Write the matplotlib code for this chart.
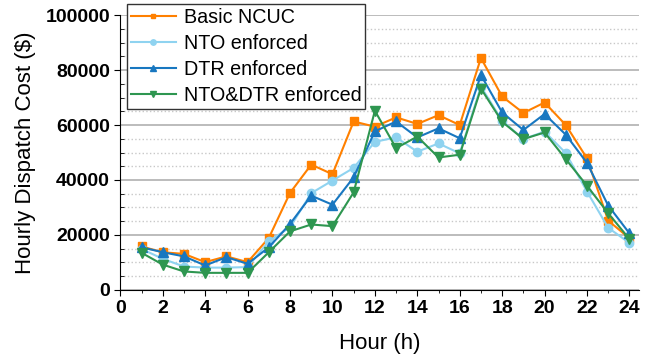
import matplotlib
matplotlib.use('Agg')
import matplotlib.pyplot as plt
from matplotlib.ticker import MultipleLocator

plt.rcParams['font.family'] = ['Liberation Sans', 'DejaVu Sans']

# Data
hours = list(range(1, 25))
basic_ncuc = [15800, 13700, 13100, 10100, 12200, 10100, 18900, 35300, 45600, 42100, 61300, 59400,
              62800, 60400, 63600, 60000, 84400, 70400, 64400, 68200, 60000, 47900, 25200, 18800]
nto = [14900, 11300, 8500, 8100, 8100, 8300, 17700, 22800, 35200, 39800, 44400, 53900,
       55500, 50300, 53300, 49700, 74000, 61600, 54900, 57600, 49800, 35800, 22600, 17100]
dtr = [15500, 13700, 12200, 8900, 11900, 9500, 15500, 24000, 34300, 31000, 41000, 57700,
       61300, 55500, 58800, 55200, 78200, 64600, 58200, 64000, 56500, 46200, 30700, 20600]
nto_dtr = [13500, 9200, 6700, 6200, 6200, 6200, 13700, 21300, 23800, 23200, 35500, 65200,
           51600, 55800, 48200, 49200, 73300, 61200, 54900, 57300, 47600, 37900, 27900, 18500]

series = [
    ('Basic NCUC', basic_ncuc, '#FF8000', 's', 5.5),
    ('NTO enforced', nto, '#8FD3F0', 'o', 6.0),
    ('DTR enforced', dtr, '#1877C0', '^', 6.5),
    ('NTO&DTR enforced', nto_dtr, '#2E9650', 'v', 6.5),
]

fig = plt.figure(figsize=(6.54, 3.61), dpi=100)
ax = fig.add_axes([0.184, 0.197, 0.793, 0.761])

for label, vals, color, marker, ms in series:
    ax.plot(hours, vals, color=color, marker=marker, markersize=ms, linewidth=1.5, label=label)

# Axes limits and ticks
ax.set_xlim(0, 24.45)
ax.set_ylim(0, 100000)
ax.xaxis.set_major_locator(MultipleLocator(2))
ax.xaxis.set_minor_locator(MultipleLocator(1))
ax.yaxis.set_major_locator(MultipleLocator(20000))
ax.yaxis.set_minor_locator(MultipleLocator(5000))

ax.grid(which='major', axis='y', color='#b0b0b0', linewidth=1.2)
ax.grid(which='minor', axis='y', color='#c8c8c8', linestyle=':', linewidth=1.0)
ax.set_axisbelow(True)

ax.spines['top'].set_visible(False)
ax.spines['right'].set_visible(False)

ax.tick_params(which='major', direction='out', length=4, labelsize=14)
ax.tick_params(which='minor', direction='in', length=3)
ax.tick_params(axis='x', which='minor', direction='out', length=2.5)
for lab in ax.get_xticklabels() + ax.get_yticklabels():
    lab.set_fontweight('bold')

ax.set_xlabel('Hour (h)', fontsize=16, labelpad=11)
ax.set_ylabel('Hourly Dispatch Cost ($)', fontsize=16, labelpad=7)

leg = ax.legend(loc='upper left', bbox_to_anchor=(0.012, 1.042), fontsize=14.2,
                frameon=True, fancybox=False, edgecolor='#333333', framealpha=1,
                handlelength=2.3, borderpad=0.2, labelspacing=0.36, handletextpad=0.4,
                borderaxespad=0, markerscale=0.65)
leg.get_frame().set_linewidth(1.0)

fig.savefig('out.png', dpi=100)
